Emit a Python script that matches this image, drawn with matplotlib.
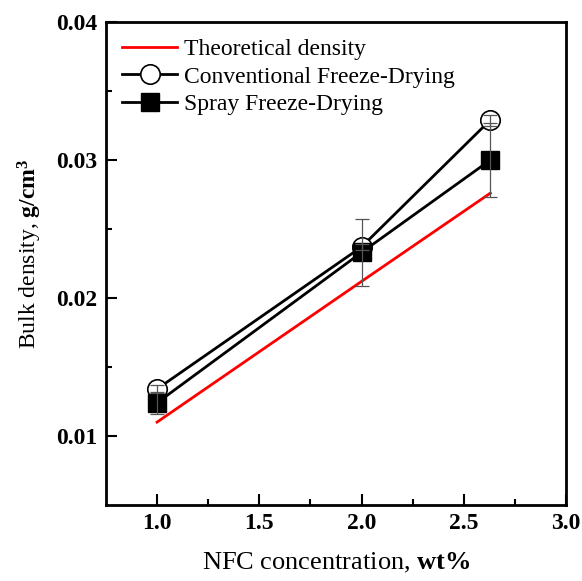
import numpy as np
import matplotlib.pyplot as plt

plt.rcParams['font.family'] = ['Liberation Serif', 'DejaVu Serif']
plt.rcParams['mathtext.fontset'] = 'custom'
plt.rcParams['mathtext.rm'] = 'Liberation Serif'
plt.rcParams['mathtext.bf'] = 'Liberation Serif:bold'

# Data
conc = [1.0, 2.0, 2.63]
theo = [0.0110, 0.0212, 0.0276]
cfd = [0.0134, 0.0237, 0.0329]
cfd_err = [0.0003, 0.0002, 0.0004]
sfd = [0.0124, 0.0233, 0.0300]
sfd_err = [0.0008, 0.0024, 0.0027]

fig = plt.figure(figsize=(5.82, 5.81), dpi=100)
ax = fig.add_axes([0.182, 0.131, 0.7905, 0.831])

ax.plot(conc, theo, color='red', lw=2, label='Theoretical density', zorder=2)
ax.plot(conc, cfd, color='black', lw=2, marker='o', ms=14, mfc='white',
        mec='black', mew=1.2, label='Conventional Freeze-Drying', zorder=3)
ax.plot(conc, sfd, color='black', lw=2, marker='s', ms=13, mfc='black',
        mec='black', label='Spray Freeze-Drying', zorder=3)

ax.errorbar(conc, cfd, yerr=cfd_err, fmt='none', ecolor='#555555',
            elinewidth=0.9, capsize=5, capthick=0.9, zorder=4)
ax.errorbar(conc, sfd, yerr=sfd_err, fmt='none', ecolor='#555555',
            elinewidth=0.9, capsize=5, capthick=0.9, zorder=4)

ax.set_xlim(0.75, 3.0)
ax.set_ylim(0.005, 0.04)
ax.set_xticks([1.0, 1.5, 2.0, 2.5, 3.0])
ax.set_xticks([1.25, 1.75, 2.25, 2.75], minor=True)
ax.set_yticks([0.01, 0.02, 0.03, 0.04])
ax.set_yticks([0.015, 0.025, 0.035], minor=True)
ax.set_xticklabels(['1.0', '1.5', '2.0', '2.5', '3.0'])
ax.set_yticklabels(['0.01', '0.02', '0.03', '0.04'])

ax.tick_params(which='both', direction='in', top=False, right=False,
               labelsize=17, width=1.5)
ax.tick_params(which='major', length=8)
ax.tick_params(axis='x', which='major', pad=6)
ax.tick_params(axis='y', which='major', pad=6)
ax.tick_params(which='minor', length=4)
for lbl in ax.get_xticklabels() + ax.get_yticklabels():
    lbl.set_fontweight('bold')
for sp in ax.spines.values():
    sp.set_linewidth(2)

ax.set_xlabel(r'NFC concentration, $\mathbf{wt\%}$', fontsize=19, labelpad=12)
ax.set_ylabel(r'Bulk density, $\mathbf{g/cm^3}$', fontsize=17)
ax.yaxis.set_label_coords(-0.135, 0.52)

ax.legend(loc='upper left', frameon=False, fontsize=17, handlelength=2.3,
          borderaxespad=0.3, labelspacing=0.25, handletextpad=0.3)

fig.savefig('out.png', dpi=100)
